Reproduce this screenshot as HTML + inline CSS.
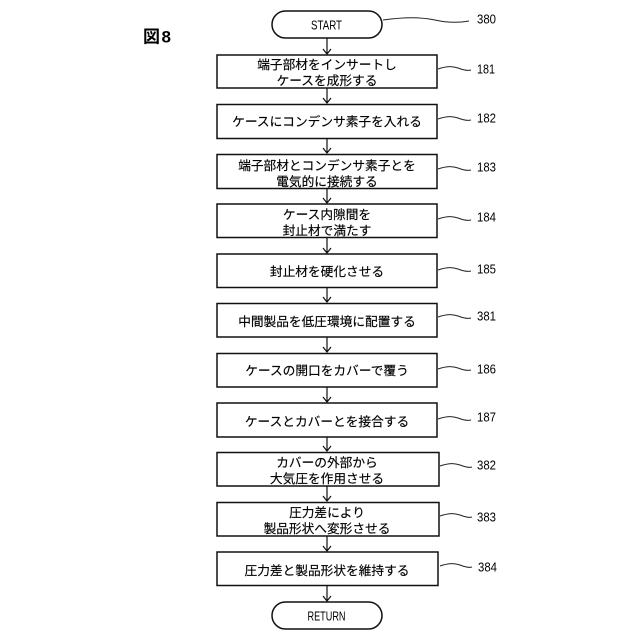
<!DOCTYPE html>
<html><head><meta charset="utf-8"><style>
html,body{margin:0;padding:0;background:#fff}
svg{display:block}
text{font-family:"Liberation Sans","Noto Sans CJK JP",sans-serif;fill:#000}
.t{font-size:12.7px;text-anchor:middle;stroke:#000;stroke-width:.15px}
.n{font-size:12.5px}
.b{fill:#fff;stroke:#111;stroke-width:1.5}
.l{fill:none;stroke:#222;stroke-width:1}
.a{fill:none;stroke:#111;stroke-width:1.2}
</style></head><body>
<svg width="640" height="640" viewBox="0 0 640 640" xmlns="http://www.w3.org/2000/svg">
<text x="143" y="42.500" style="font-size:17px;font-weight:bold" textLength="28">図8</text>
<rect class="b" x="272" y="11" width="110" height="27" rx="13.5"/>
<text x="326.500" y="29.500" style="font-size:13px;text-anchor:middle" textLength="31" lengthAdjust="spacingAndGlyphs">START</text>
<rect class="b" x="272" y="602" width="110" height="27" rx="13.5"/>
<text x="326.500" y="620.500" style="font-size:13px;text-anchor:middle" textLength="38" lengthAdjust="spacingAndGlyphs">RETURN</text>
<g>
<rect class="b" x="217" y="55" width="220" height="33"/>
<rect class="b" x="217" y="104.500" width="220" height="34"/>
<rect class="b" x="217" y="154.500" width="220" height="34"/>
<rect class="b" x="217" y="204" width="220" height="33.500"/>
<rect class="b" x="217" y="254" width="220" height="33.500"/>
<rect class="b" x="217" y="303.500" width="220" height="33.500"/>
<rect class="b" x="217" y="353.500" width="220" height="33.500"/>
<rect class="b" x="217" y="403" width="220" height="34"/>
<rect class="b" x="217" y="452.500" width="222" height="33.500"/>
<rect class="b" x="217" y="502.500" width="222" height="33.500"/>
<rect class="b" x="217" y="552" width="221" height="33.500"/>
</g>
<g>
<text class="t" x="327" y="69">端子部材をインサートし</text>
<text class="t" x="327" y="85">ケースを成形する</text>
<text class="t" x="327" y="126">ケースにコンデンサ素子を入れる</text>
<text class="t" x="327" y="170">端子部材とコンデンサ素子とを</text>
<text class="t" x="327" y="186">電気的に接続する</text>
<text class="t" x="327" y="219">ケース内隙間を</text>
<text class="t" x="327" y="235">封止材で満たす</text>
<text class="t" x="327" y="276">封止材を硬化させる</text>
<text class="t" x="327" y="326">中間製品を低圧環境に配置する</text>
<text class="t" x="327" y="375">ケースの開口をカバーで覆う</text>
<text class="t" x="327" y="426">ケースとカバーとを接合する</text>
<text class="t" x="327" y="467">カバーの外部から</text>
<text class="t" x="327" y="483">大気圧を作用させる</text>
<text class="t" x="327" y="517">圧力差により</text>
<text class="t" x="327" y="533">製品形状へ変形させる</text>
<text class="t" x="327" y="575">圧力差と製品形状を維持する</text>
</g>
<path class="a" d="M327 38V54M323 49L327 54L331 49M327 88V103M323 98L327 103L331 98M327 138V153M323 148L327 153L331 148M327 188V203M323 198L327 203L331 198M327 237V253M323 248L327 253L331 248M327 287V302M323 297L327 302L331 297M327 337V352M323 347L327 352L331 347M327 387V402M323 397L327 402L331 397M327 437V451M323 446L327 451L331 446M327 486V501M323 496L327 501L331 496M327 536V551M323 546L327 551L331 546M327 586V601M323 596L327 601L331 596"/>
<g class="l">
<path d="M383 20C405 17 420 17 435 20C448 23 458 23 469 21"/>
<path d="M438 69C447 66 452 66 458 68C463 70 467 71 471 70"/>
<path d="M438 119C447 116 452 116 458 118C463 120 467 121 471 120"/>
<path d="M438 169C447 166 452 166 458 168C463 170 467 171 471 170"/>
<path d="M438 219C447 216 452 216 458 218C463 220 467 221 471 220"/>
<path d="M438 270C447 267 452 267 458 269C463 271 467 272 471 271"/>
<path d="M438 317C447 314 452 314 458 316C463 318 467 319 471 318"/>
<path d="M438 369C447 366 452 366 458 368C463 370 467 371 471 370"/>
<path d="M438 419C447 416 452 416 458 418C463 420 467 421 471 420"/>
<path d="M440 466C449 463 454 463 460 465C465 467 469 468 472 467"/>
<path d="M440 516C449 513 454 513 460 515C465 517 469 518 472 517"/>
<path d="M440 566C449 563 454 563 460 565C465 567 469 568 472 567"/>
</g>
<g class="n">
<text x="477" y="23.500" textLength="19" lengthAdjust="spacingAndGlyphs">380</text>
<text x="477" y="73.500" textLength="18" lengthAdjust="spacingAndGlyphs">181</text>
<text x="477" y="122.500" textLength="19" lengthAdjust="spacingAndGlyphs">182</text>
<text x="477" y="171.500" textLength="19" lengthAdjust="spacingAndGlyphs">183</text>
<text x="477" y="221.500" textLength="19" lengthAdjust="spacingAndGlyphs">184</text>
<text x="477" y="273.500" textLength="19" lengthAdjust="spacingAndGlyphs">185</text>
<text x="477" y="320.500" textLength="19" lengthAdjust="spacingAndGlyphs">381</text>
<text x="477" y="373.500" textLength="19" lengthAdjust="spacingAndGlyphs">186</text>
<text x="477" y="421.500" textLength="19" lengthAdjust="spacingAndGlyphs">187</text>
<text x="477" y="469.500" textLength="19" lengthAdjust="spacingAndGlyphs">382</text>
<text x="477" y="521.500" textLength="19" lengthAdjust="spacingAndGlyphs">383</text>
<text x="478" y="571.500" textLength="19" lengthAdjust="spacingAndGlyphs">384</text>
</g>
</svg>
</body></html>
